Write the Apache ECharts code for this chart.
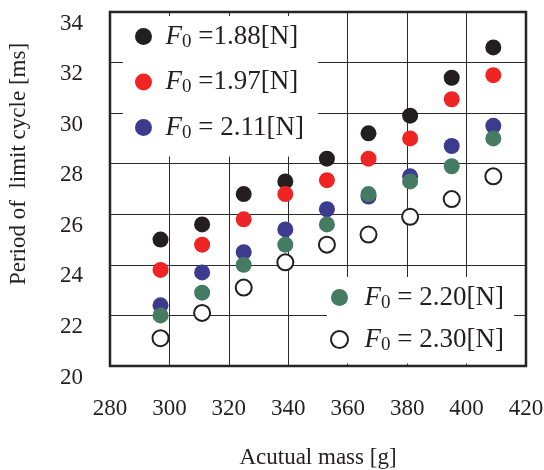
<!DOCTYPE html>
<html>
<head>
<meta charset="utf-8">
<script src="https://cdn.jsdelivr.net/npm/echarts@6/dist/echarts.min.js"></script>
<style>
  html, body { margin: 0; padding: 0; background: #fff; }
  #main { width: 544px; height: 470px; }
</style>
</head>
<body>
<div id="main"></div>
<script>
// actual mass of each column [g]
var mass = [297, 311, 325, 339, 353, 367, 381, 395, 409];
// period of limit cycle [ms] for each F0
var f188 = [25.0, 25.6, 26.8, 27.3, 28.2, 29.2, 29.9, 31.4, 32.6];
var f197 = [23.8, 24.8, 25.8, 26.8, 27.35, 28.2, 29.0, 30.55, 31.5];
var f211 = [22.4, 23.7, 24.5, 25.4, 26.2, 26.7, 27.5, 28.7, 29.5];
var f220 = [22.0, 22.9, 24.0, 24.8, 25.6, 26.8, 27.3, 27.9, 29.0];
var f230 = [21.1, 22.1, 23.1, 24.1, 24.8, 25.2, 25.9, 26.6, 27.5];
var names = ['F0 =1.88[N]', 'F0 =1.97[N]', 'F0 = 2.11[N]', 'F0 = 2.20[N]', 'F0 = 2.30[N]'];

var serif = 'Liberation Serif';
var ink = '#231f20';

function pairs(ys) {
  return mass.map(function (m, i) { return [m, ys[i]]; });
}

// F with subscript 0, rest as plain text
function legendText(name) {
  return '{f|F}{s|0}{t|' + name.slice(2) + '}';
}
function richFor(padLeft) {
  return {
    f: { fontFamily: serif, fontStyle: 'italic', fontSize: 27, lineHeight: 30, color: ink, padding: [0, 0, 0, padLeft] },
    s: { fontFamily: serif, fontSize: 19, lineHeight: 18, verticalAlign: 'bottom', color: ink },
    t: { fontFamily: serif, fontSize: 27, lineHeight: 30, color: ink }
  };
}

function dots(name, ys, fill, border) {
  return {
    name: name,
    type: 'scatter',
    data: pairs(ys),
    symbol: 'circle',
    symbolSize: 16,
    itemStyle: { color: fill, borderColor: border || fill, borderWidth: border ? 2 : 0, opacity: 1 },
    emphasis: { disabled: true }
  };
}

var chart = echarts.init(document.getElementById('main'));
chart.setOption({
  animation: false,
  backgroundColor: '#fff',
  grid: {
    left: 110, top: 12, right: 18, bottom: 104,
    show: true, borderColor: ink, borderWidth: 2.5,
    outerBoundsMode: 'none'
  },
  legend: [{
    data: names.slice(0, 3),
    orient: 'vertical',
    left: 123, top: 16,
    padding: [7, 14, 14, 12],
    itemGap: 17,
    itemWidth: 34, itemHeight: 17,
    backgroundColor: '#fff',
    icon: 'circle',
    formatter: legendText,
    textStyle: { rich: richFor(0) },
    selectedMode: false
  }, {
    data: names.slice(3),
    orient: 'vertical',
    left: 327, top: 277,
    padding: [7, 10, 9, 3],
    itemGap: 13.5,
    itemWidth: 24, itemHeight: 17,
    backgroundColor: '#fff',
    icon: 'circle',
    formatter: legendText,
    textStyle: { rich: richFor(8) },
    selectedMode: false
  }],
  xAxis: {
    type: 'value',
    min: 280, max: 420, interval: 20,
    name: 'Acutual mass [g]',
    nameLocation: 'middle',
    nameGap: 80,
    nameTextStyle: { fontFamily: serif, fontSize: 23, color: ink },
    axisLine: { show: false },
    axisTick: { show: false },
    axisLabel: { margin: 31, fontFamily: serif, fontSize: 23, color: ink },
    splitLine: { show: true, lineStyle: { color: '#2a2a2a', width: 1 } }
  },
  yAxis: {
    type: 'value',
    min: 20, max: 34, interval: 2,
    name: 'Period of  limit cycle [ms]',
    nameLocation: 'middle',
    nameGap: 80,
    nameTextStyle: { fontFamily: serif, fontSize: 23, color: ink, padding: [0, 0, 0, 50] },
    axisLine: { show: false },
    axisTick: { show: false },
    axisLabel: { margin: 27, verticalAlign: 'top', fontFamily: serif, fontSize: 23, color: ink },
    splitLine: { show: true, lineStyle: { color: '#2a2a2a', width: 1 } }
  },
  series: [
    dots(names[0], f188, '#231f20'),
    dots(names[1], f197, '#ee2524'),
    dots(names[2], f211, '#3c3b8e'),
    dots(names[3], f220, '#457b63'),
    dots(names[4], f230, '#ffffff', '#231f20')
  ]
});
</script>
</body>
</html>
